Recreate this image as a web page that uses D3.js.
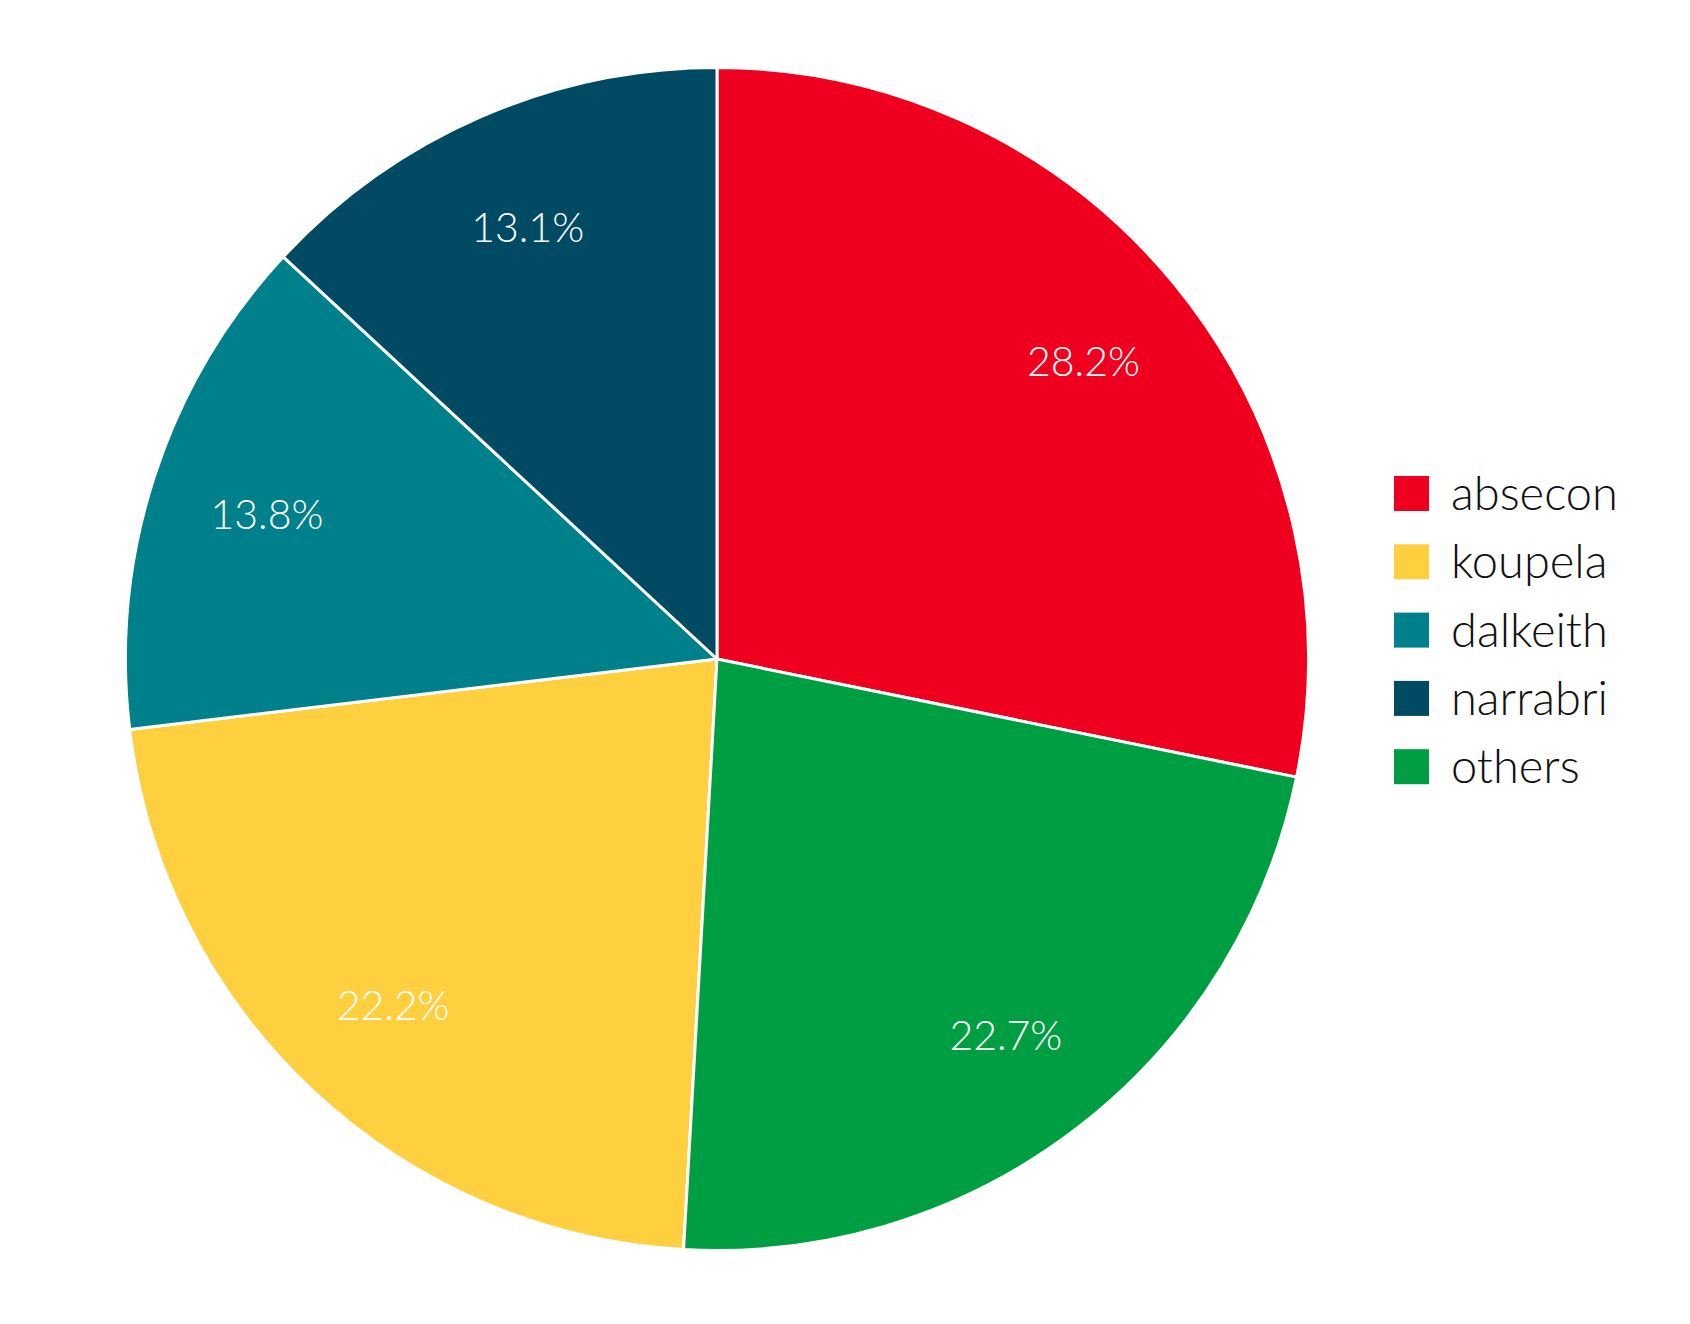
<!DOCTYPE html>
<html><head><meta charset="utf-8">
<script src="https://cdn.jsdelivr.net/npm/d3@7"></script>
<style>
html,body{margin:0;padding:0;background:#fff;}
svg{display:block;}
text{font-family:Lato,"Noto Sans",sans-serif;font-weight:300;}
</style></head>
<body><svg id="c" width="1690" height="1324"></svg>
<script>
const categories = ["absecon","koupela","dalkeith","narrabri","others"];
const values = [28.2, 22.2, 13.8, 13.1, 22.7];
const colors = ["#F0001F","#FECF3F","#00808A","#004B63","#009E42"];

const W=1690,H=1324, cx=717, cy=659, R=591.5;
const svg=d3.select("#c");
const data=categories.map((c,i)=>({cat:c,value:values[i]}));
const color=d3.scaleOrdinal().domain(categories).range(colors);
const pie=d3.pie().value(d=>d.value).sort((a,b)=>d3.descending(a.value,b.value));
const arc=d3.arc().innerRadius(0).outerRadius(R);
const labelArc=d3.arc().innerRadius(R*0.8).outerRadius(R*0.8);
const total=d3.sum(values);
const g=svg.append("g").attr("transform",`translate(${cx},${cy})`);
const arcs=pie(data);
g.selectAll("path").data(arcs).join("path")
 .attr("d",arc).attr("fill",d=>color(d.data.cat))
 .attr("stroke","#fff").attr("stroke-width",3).attr("stroke-linejoin","round");
g.selectAll("text").data(arcs).join("text")
 .attr("transform",d=>`translate(${labelArc.centroid(d)})`)
 .attr("text-anchor","middle").attr("dy","0.4em")
 .attr("fill","#fff").attr("font-size",41)
 .text(d=>d3.format(".1f")(d.data.value/total*100)+"%");

const lg=svg.append("g").attr("transform","translate(1394,476)");
const items=lg.selectAll("g").data(categories).join("g")
 .attr("transform",(d,i)=>`translate(0,${i*68.3})`);
items.append("rect").attr("width",35).attr("height",35).attr("fill",d=>color(d));
items.append("text").attr("x",57).attr("y",17.5).attr("dy","0.35em")
 .attr("font-size",47).attr("fill","#111").text(d=>d);
</script></body></html>
